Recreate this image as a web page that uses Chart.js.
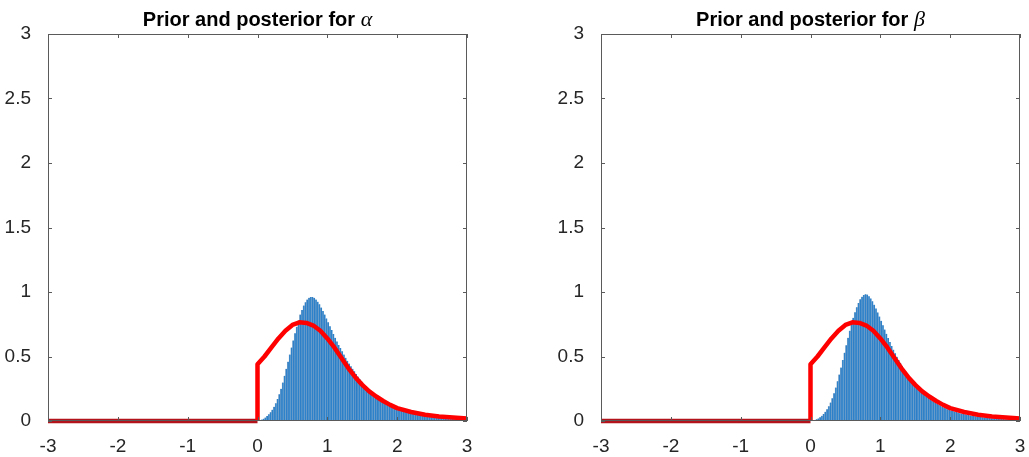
<!DOCTYPE html>
<html>
<head>
<meta charset="utf-8">
<script src="https://cdn.jsdelivr.net/npm/chart.js@4.4.1/dist/chart.umd.min.js"></script>
<style>
  body { margin: 0; background: #fff; }
  .panel { position: absolute; top: 0; height: 457px; }
</style>
</head>
<body>
<div class="panel" style="left:0; width:480px;"><canvas id="alphaChart" width="480" height="457"></canvas></div>
<div class="panel" style="left:553px; width:476px;"><canvas id="betaChart" width="476" height="457"></canvas></div>
<script>
// histogram bin centres (bin width 0.025)
const binCenters = [
  0.0125, 0.0375, 0.0625, 0.0875, 0.1125, 0.1375, 0.1625, 0.1875, 0.2125, 0.2375,
  0.2625, 0.2875, 0.3125, 0.3375, 0.3625, 0.3875, 0.4125, 0.4375, 0.4625, 0.4875,
  0.5125, 0.5375, 0.5625, 0.5875, 0.6125, 0.6375, 0.6625, 0.6875, 0.7125, 0.7375,
  0.7625, 0.7875, 0.8125, 0.8375, 0.8625, 0.8875, 0.9125, 0.9375, 0.9625, 0.9875,
  1.0125, 1.0375, 1.0625, 1.0875, 1.1125, 1.1375, 1.1625, 1.1875, 1.2125, 1.2375,
  1.2625, 1.2875, 1.3125, 1.3375, 1.3625, 1.3875, 1.4125, 1.4375, 1.4625, 1.4875,
  1.5125, 1.5375, 1.5625, 1.5875, 1.6125, 1.6375, 1.6625, 1.6875, 1.7125, 1.7375,
  1.7625, 1.7875, 1.8125, 1.8375, 1.8625, 1.8875, 1.9125, 1.9375, 1.9625, 1.9875,
  2.0125, 2.0375, 2.0625, 2.0875, 2.1125, 2.1375, 2.1625, 2.1875, 2.2125, 2.2375,
  2.2625, 2.2875, 2.3125, 2.3375, 2.3625, 2.3875, 2.4125, 2.4375, 2.4625, 2.4875,
  2.5125, 2.5375, 2.5625, 2.5875, 2.6125, 2.6375, 2.6625, 2.6875, 2.7125, 2.7375,
  2.7625, 2.7875, 2.8125, 2.8375, 2.8625, 2.8875, 2.9125, 2.9375, 2.9625, 2.9875
];

// posterior histogram heights
const alphaPosterior = [
  0.003, 0.006, 0.011, 0.018, 0.027, 0.038, 0.052, 0.068, 0.088, 0.11,
  0.138, 0.17, 0.208, 0.25, 0.298, 0.35, 0.405, 0.46, 0.515, 0.57,
  0.625, 0.68, 0.73, 0.78, 0.825, 0.86, 0.895, 0.92, 0.942, 0.955,
  0.962, 0.962, 0.955, 0.942, 0.925, 0.905, 0.88, 0.853, 0.825, 0.795,
  0.765, 0.735, 0.705, 0.675, 0.645, 0.617, 0.59, 0.565, 0.54, 0.515,
  0.49, 0.467, 0.445, 0.425, 0.405, 0.385, 0.365, 0.345, 0.325, 0.307,
  0.289, 0.272, 0.257, 0.243, 0.23, 0.218, 0.206, 0.195, 0.185, 0.175,
  0.165, 0.156, 0.147, 0.139, 0.131, 0.124, 0.117, 0.11, 0.104, 0.098,
  0.093, 0.088, 0.083, 0.078, 0.073, 0.069, 0.065, 0.061, 0.058, 0.055,
  0.052, 0.049, 0.046, 0.044, 0.041, 0.039, 0.037, 0.035, 0.033, 0.031,
  0.029, 0.028, 0.026, 0.025, 0.023, 0.022, 0.021, 0.02, 0.019, 0.018,
  0.017, 0.016, 0.015, 0.014, 0.013, 0.013, 0.012, 0.011, 0.011, 0.01
];
const betaPosterior = [
  0.002, 0.004, 0.008, 0.013, 0.02, 0.029, 0.04, 0.054, 0.071, 0.091,
  0.115, 0.143, 0.177, 0.216, 0.26, 0.308, 0.36, 0.415, 0.472, 0.53,
  0.588, 0.645, 0.70, 0.752, 0.80, 0.843, 0.882, 0.915, 0.943, 0.963,
  0.977, 0.983, 0.98, 0.968, 0.95, 0.928, 0.902, 0.873, 0.842, 0.81,
  0.777, 0.743, 0.709, 0.676, 0.643, 0.612, 0.582, 0.553, 0.525, 0.498,
  0.473, 0.449, 0.426, 0.404, 0.383, 0.363, 0.343, 0.324, 0.306, 0.289,
  0.272, 0.256, 0.241, 0.227, 0.214, 0.202, 0.19, 0.179, 0.169, 0.159,
  0.15, 0.141, 0.133, 0.125, 0.118, 0.111, 0.104, 0.098, 0.092, 0.087,
  0.082, 0.077, 0.073, 0.069, 0.065, 0.061, 0.058, 0.055, 0.052, 0.049,
  0.046, 0.043, 0.041, 0.039, 0.037, 0.035, 0.033, 0.031, 0.029, 0.028,
  0.026, 0.025, 0.023, 0.022, 0.021, 0.02, 0.019, 0.018, 0.017, 0.016,
  0.015, 0.014, 0.013, 0.013, 0.012, 0.011, 0.011, 0.01, 0.01, 0.009
];

// prior density (red curve), same for both parameters
const priorX = [-3, 0, 0, 0.1, 0.2, 0.3, 0.4, 0.5, 0.6, 0.7, 0.8, 0.9, 1.0,
  1.1, 1.2, 1.3, 1.4, 1.5, 1.6, 1.7, 1.8, 1.9, 2.0, 2.2, 2.4, 2.6, 2.8, 3.0];
const priorY = [0, 0, 0.44, 0.50, 0.57, 0.64, 0.70, 0.745, 0.765, 0.76, 0.74, 0.70, 0.64,
  0.57, 0.49, 0.41, 0.34, 0.28, 0.23, 0.19, 0.155, 0.125, 0.10, 0.07, 0.048, 0.035, 0.027, 0.02];

const xTicks = [-3, -2, -1, 0, 1, 2, 3];
const yTicks = [0, 0.5, 1, 1.5, 2, 2.5, 3];

const axisColor = "#5a5a5a";
const textColor = "#262626";
const tickFont = { family: "'Liberation Sans', Arial, sans-serif", size: 19 };

// MATLAB style box with inward ticks
const boxAxes = {
  id: "boxAxes",
  afterDatasetsDraw(chart) {
    const { ctx, chartArea: a, scales } = chart;
    const tl = 4;
    ctx.save();
    ctx.strokeStyle = axisColor;
    ctx.lineWidth = 1;
    ctx.strokeRect(a.left + 0.5, a.top + 0.5, a.right - a.left - 1, a.bottom - a.top - 1);
    ctx.beginPath();
    xTicks.forEach((v) => {
      const px = Math.round(scales.x.getPixelForValue(v)) + 0.5;
      ctx.moveTo(px, a.bottom); ctx.lineTo(px, a.bottom - tl);
      ctx.moveTo(px, a.top); ctx.lineTo(px, a.top + tl);
    });
    yTicks.forEach((v) => {
      const py = Math.round(scales.y.getPixelForValue(v)) + 0.5;
      ctx.moveTo(a.left, py); ctx.lineTo(a.left + tl, py);
      ctx.moveTo(a.right, py); ctx.lineTo(a.right - tl, py);
    });
    ctx.stroke();
    ctx.restore();
  },
};

// title with a bold sans part and an italic greek symbol
const mixedTitle = {
  id: "mixedTitle",
  afterDraw(chart, args, opts) {
    const { ctx, chartArea: a } = chart;
    const head = "Prior and posterior for ";
    const sym = opts.symbol;
    const headFont = "bold 20px 'Liberation Sans', Arial, sans-serif";
    const symFont = "italic 22px 'Liberation Serif', 'Times New Roman', serif";
    ctx.save();
    ctx.fillStyle = "#000";
    ctx.textBaseline = "alphabetic";
    ctx.font = headFont;
    const w1 = ctx.measureText(head).width;
    ctx.font = symFont;
    const w2 = ctx.measureText(sym).width;
    const x0 = (a.left + a.right) / 2 - (w1 + w2) / 2;
    ctx.font = headFont;
    ctx.fillText(head, x0, 26);
    ctx.font = symFont;
    ctx.fillText(sym, x0 + w1, 26);
    ctx.restore();
  },
};

function makeChart(id, posterior, symbol, padRight) {
  const ctx = document.getElementById(id).getContext("2d");
  return new Chart(ctx, {
    type: "bar",
    data: {
      datasets: [
        {
          type: "line",
          label: "prior",
          data: priorX.map((x, i) => ({ x: x, y: priorY[i] })),
          borderColor: "#ff0000",
          borderWidth: 4.5,
          borderJoinStyle: "round",
          pointRadius: 0,
          tension: 0,
          clip: 6,
          // the flat part along the axis reads darker in the original
          segment: {
            borderColor: (c) =>
              c.p0.parsed.y === 0 && c.p1.parsed.y === 0 ? "#b3141c" : undefined,
          },
          order: 0,
        },
        {
          type: "bar",
          label: "posterior",
          data: binCenters.map((x, i) => ({ x: x, y: posterior[i] })),
          backgroundColor: "rgb(46,130,202)",
          borderColor: "rgba(20,60,110,0.35)",
          borderWidth: { left: 0.5, right: 0, top: 0, bottom: 0 },
          borderSkipped: false,
          barPercentage: 1,
          categoryPercentage: 1,
          order: 1,
        },
      ],
    },
    options: {
      responsive: false,
      animation: false,
      devicePixelRatio: 1,
      layout: { padding: { top: 34, right: padRight, left: 0, bottom: 0 } },
      plugins: {
        legend: { display: false },
        tooltip: { enabled: false },
        title: { display: false },
        mixedTitle: { symbol: symbol },
      },
      scales: {
        x: {
          type: "linear",
          min: -3,
          max: 3,
          offset: false,
          grid: { display: false, offset: false },
          border: { display: false },
          ticks: { stepSize: 1, padding: 6, color: textColor, font: tickFont },
          afterFit(scale) {
            scale.height = 36;
            scale.paddingLeft = 0;
            scale.paddingRight = 0;
          },
        },
        y: {
          min: 0,
          max: 3,
          grid: { display: false },
          border: { display: false },
          ticks: {
            stepSize: 0.5,
            padding: 9,
            color: textColor,
            font: tickFont,
            callback: (v) => String(v),
          },
          afterFit(scale) { scale.width = 48; },
        },
      },
    },
    plugins: [boxAxes, mixedTitle],
  });
}

const alphaChart = makeChart("alphaChart", alphaPosterior, "α", 13);
const betaChart = makeChart("betaChart", betaPosterior, "β", 9);
</script>
</body>
</html>
